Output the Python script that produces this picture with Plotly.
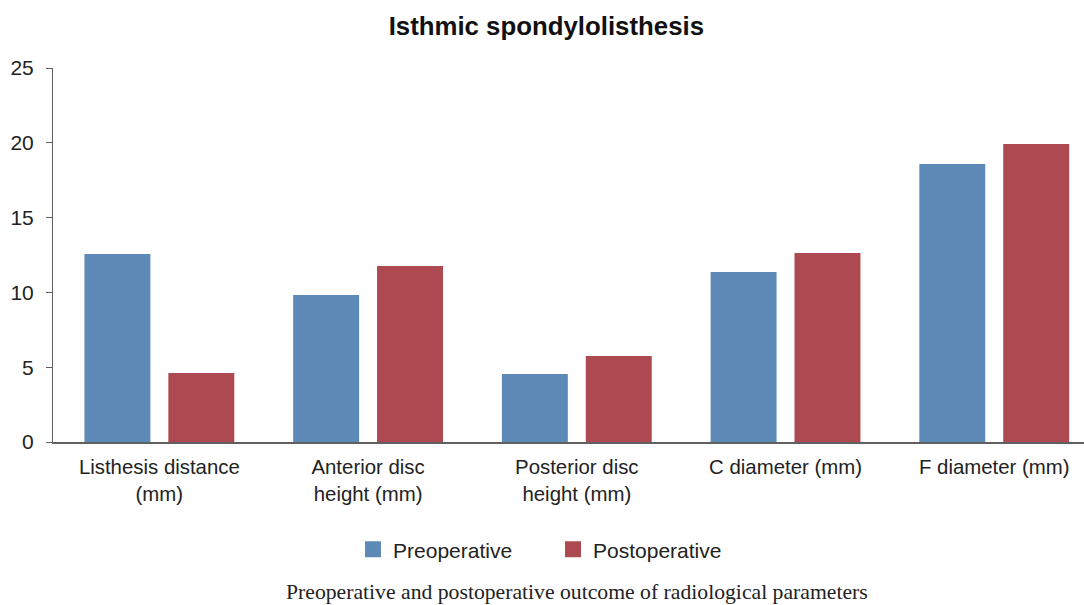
import plotly.graph_objects as go

categories = ["Listhesis distance<br>(mm)", "Anterior disc<br>height (mm)",
              "Posterior disc<br>height (mm)", "C diameter (mm)", "F diameter (mm)"]
preoperative = [12.57, 9.83, 4.55, 11.36, 18.58]
postoperative = [4.61, 11.76, 5.75, 12.63, 19.92]
y_ticks = [0, 5, 10, 15, 20, 25]

BLUE = "#5d8ab7"
RED = "#ad4a51"

fig = go.Figure()
fig.add_trace(go.Bar(x=categories, y=preoperative, name="Preoperative",
                     marker=dict(color=BLUE, line=dict(width=0)),
                     width=0.316, offset=-0.359, showlegend=False))
fig.add_trace(go.Bar(x=categories, y=postoperative, name="Postoperative",
                     marker=dict(color=RED, line=dict(width=0)),
                     width=0.316, offset=0.043, showlegend=False))
# legend entries with larger square symbols
for name, col in [("Preoperative", BLUE), ("Postoperative", RED)]:
    fig.add_trace(go.Scatter(x=[None], y=[None], mode="markers", name=name,
                             marker=dict(symbol="square", size=16, color=col),
                             showlegend=True, hoverinfo="skip"))

fig.update_layout(
    width=1084, height=605,
    paper_bgcolor="white", plot_bgcolor="white",
    margin=dict(l=53, r=0, t=68, b=163),
    font=dict(family="Liberation Sans, Arial", size=20.4, color="#222222"),
    title=dict(text="<b>Isthmic spondylolisthesis</b>", x=0.504, xanchor="center",
               y=1 - 26 / 605, yanchor="middle", yref="container",
               font=dict(size=25.8, color="#111111")),
    barmode="group",
    showlegend=True,
    legend=dict(orientation="h", x=0.291, xanchor="left", y=-0.288, yanchor="middle",
                font=dict(size=21, color="#222222"), entrywidth=155, entrywidthmode="pixels",
                itemsizing="trace", bgcolor="rgba(0,0,0,0)"),
    xaxis=dict(range=[-0.5096, 4.43], showline=True, linecolor="#606060", linewidth=2,
               ticks="", showgrid=False, zeroline=False, ticklabelstandoff=6,
               tickfont=dict(size=20.4, color="#222222")),
    yaxis=dict(range=[0, 25], tickvals=y_ticks, showline=True, linecolor="#606060",
               linewidth=1, ticks="outside", ticklen=6, tickcolor="#606060",
               showgrid=False, zeroline=False, ticklabelstandoff=8,
               tickfont=dict(size=21, color="#222222")),
)

fig.add_annotation(text="Preoperative and postoperative outcome of radiological parameters",
                   xref="paper", yref="paper", x=0.508, y=(442 - 592) / 374,
                   xanchor="center", yanchor="middle", showarrow=False,
                   font=dict(family="Liberation Serif, DejaVu Serif, serif", size=21.7,
                             color="#222222"))

fig.write_html("out.html", config={"displayModeBar": False},
               post_script="document.body.style.margin='0';document.body.style.padding='0';")
